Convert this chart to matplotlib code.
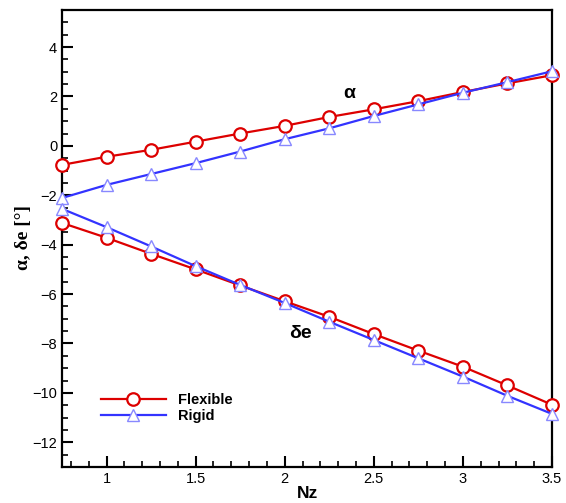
import numpy as np
import matplotlib
matplotlib.use('Agg')
import matplotlib.pyplot as plt
from matplotlib.ticker import MultipleLocator

plt.rcParams['font.family'] = ['Liberation Sans', 'DejaVu Sans']

# Datos
nz = [0.75, 1.0, 1.25, 1.5, 1.75, 2.0, 2.25, 2.5, 2.75, 3.0, 3.25, 3.5]
alpha_flex = [-0.77, -0.44, -0.16, 0.17, 0.50, 0.81, 1.17, 1.48, 1.81, 2.18, 2.53, 2.86]
alpha_rigid = [-2.11, -1.58, -1.14, -0.70, -0.23, 0.27, 0.71, 1.21, 1.68, 2.15, 2.58, 3.02]
de_flex = [-3.12, -3.72, -4.37, -5.00, -5.65, -6.29, -6.92, -7.62, -8.29, -8.94, -9.70, -10.48]
de_rigid = [-2.55, -3.29, -4.07, -4.87, -5.63, -6.36, -7.12, -7.86, -8.60, -9.34, -10.12, -10.85]

red = '#dd0000'
blue = '#3333ff'
tri_edge = '#8888ff'

fig = plt.figure(figsize=(5.66, 5.03), dpi=100)
ax = fig.add_axes([62 / 566, 1 - 467 / 503, 490 / 566, 457 / 503])

circ = dict(color=red, lw=1.6, marker='o', ms=9, mfc='white', mec=red, mew=1.6, clip_on=False, zorder=3)
tri = dict(color=blue, lw=1.6, marker='^', ms=9, mfc='white', mec=tri_edge, mew=1.0, clip_on=False, zorder=3)

ax.plot(nz, alpha_flex, label='Flexible', **circ)
ax.plot(nz, alpha_rigid, label='Rigid', **tri)
ax.plot(nz, de_flex, **circ)
ax.plot(nz, de_rigid, **tri)

ax.set_xlim(0.75, 3.5)
ax.set_ylim(-13, 5.5)
ax.xaxis.set_major_locator(MultipleLocator(0.5))
ax.xaxis.set_minor_locator(MultipleLocator(0.1))
ax.yaxis.set_major_locator(MultipleLocator(2))
ax.yaxis.set_minor_locator(MultipleLocator(0.5))
ax.set_xticks([1, 1.5, 2, 2.5, 3, 3.5])
ax.set_xticklabels(['1', '1.5', '2', '2.5', '3', '3.5'])
ax.tick_params(which='both', direction='in', top=False, right=False, labelsize=10.5, width=1.2)
ax.tick_params(which='major', length=8, width=1.5)
ax.tick_params(which='minor', length=4)
for s in ax.spines.values():
    s.set_linewidth(1.6)

ax.set_xlabel('Nz', fontsize=12.5, fontweight='bold', labelpad=0)
ax.set_ylabel('α, δe [°]', fontsize=14, fontweight='bold',
              family=['Liberation Serif', 'DejaVu Serif'])
ax.yaxis.set_label_coords(-0.062, 0.503)

ax.text(2.36, 2.1, 'α', fontsize=14, fontweight='bold', ha='center', va='center')
ax.text(2.09, -7.58, 'δe', fontsize=14, fontweight='bold', ha='center', va='center')

ax.legend(loc='lower left', bbox_to_anchor=(0.052, 0.067), frameon=False,
          prop={'weight': 'bold', 'size': 10.5}, handlelength=4.5, labelspacing=0.15)

fig.savefig('out.png', dpi=100)
